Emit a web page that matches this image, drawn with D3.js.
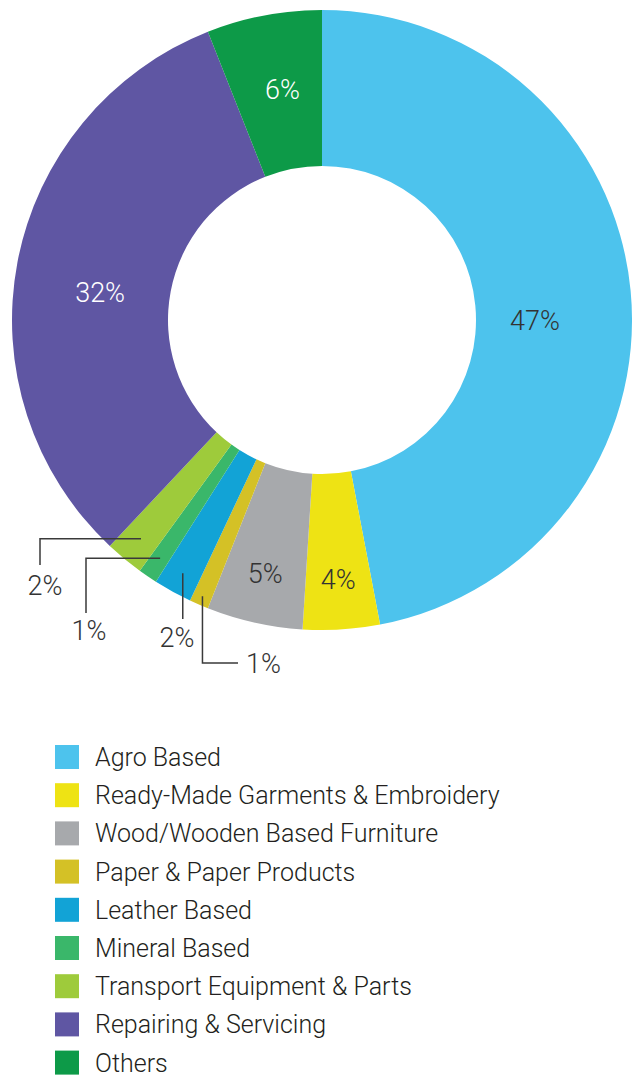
<!DOCTYPE html>
<html>
<head>
<meta charset="utf-8">
<script src="https://cdn.jsdelivr.net/npm/d3@7/dist/d3.min.js"></script>
<style>
  html, body { margin: 0; padding: 0; background: #fff; }
  svg { display: block; }
  text { font-family: Roboto, "Noto Sans", sans-serif; font-weight: 300; }
</style>
</head>
<body>
<script>
// Sector shares of industrial units (%)
const categories = [
  "Agro Based",
  "Ready-Made Garments & Embroidery",
  "Wood/Wooden Based Furniture",
  "Paper & Paper Products",
  "Leather Based",
  "Mineral Based",
  "Transport Equipment & Parts",
  "Repairing & Servicing",
  "Others"
];
const shares = [47, 4, 5, 1, 2, 1, 2, 32, 6];
const colors = ["#4DC3ED", "#EEE314", "#A7A9AC", "#D4C126", "#12A3D6", "#3AB76A", "#9ECB3B", "#5F56A3", "#0D9A48"];
// label fill per slice (light text on dark slices)
const labelColors = ["#333", "#333", "#333", "#333", "#333", "#333", "#333", "#fff", "#fff"];
// which slices get a leader-line callout instead of an inner label
const callout = [false, false, false, true, true, true, true, false, false];

const W = 632, H = 1077;
const cx = 322, cy = 320, rOuter = 310, rInner = 154;

const svg = d3.select("body").append("svg").attr("width", W).attr("height", H);

const data = categories.map((c, i) => ({ name: c, value: shares[i], color: colors[i], i }));

const pie = d3.pie().value(d => d.value).sort(null);
const arc = d3.arc().innerRadius(rInner).outerRadius(rOuter);

// inner label placement: radius along the mid-angle plus a small nudge
const labelRadius = { 0: 232, 1: 260, 2: 260, 7: 232, 8: 232 };
const labelNudge = { 0: [-18, 22], 7: [6, 16], 8: [4, -3] };

const arcs = pie(data);
const g = svg.append("g").attr("transform", `translate(${cx},${cy})`);

g.selectAll("path.slice")
  .data(arcs)
  .join("path")
  .attr("class", "slice")
  .attr("d", arc)
  .attr("fill", d => d.data.color);

function labelPos(d) {
  const r = labelRadius[d.data.i];
  const c = d3.arc().innerRadius(r).outerRadius(r).centroid(d);
  const n = labelNudge[d.data.i] || [0, 0];
  return [c[0] + n[0], c[1] + n[1]];
}

// inner labels
g.selectAll("text.inner")
  .data(arcs.filter(d => !callout[d.data.i]))
  .join("text")
  .attr("class", "inner")
  .attr("transform", d => `translate(${labelPos(d)})`)
  .attr("text-anchor", "middle")
  .attr("dy", "0.36em")
  .attr("font-size", 27)
  .attr("fill", d => labelColors[d.data.i])
  .text(d => d.data.value + "%");

// leader-line callouts for the thin slices
const calloutStyle = {
  3: { path: p => [[p[0], p[1]], [p[0], 663 - cy], [238 - cx, 663 - cy]], text: [246 - cx, 663 - cy], anchor: "start", dy: "0.36em" },
  4: { path: p => [[p[0], p[1]], [p[0], 619 - cy]], text: [177 - cx, 647 - cy], anchor: "middle", dy: "0" },
  5: { path: p => [[p[0], p[1]], [86 - cx, p[1]], [86 - cx, 613 - cy]], text: [89 - cx, 640 - cy], anchor: "middle", dy: "0" },
  6: { path: p => [[p[0], p[1]], [40 - cx, p[1]], [40 - cx, 565 - cy]], text: [45 - cx, 595 - cy], anchor: "middle", dy: "0" }
};
// radius inside each thin slice where its leader line starts
const anchorRadius = { 3: 301, 4: 289, 5: 288, 6: 284 };

arcs.filter(d => callout[d.data.i]).forEach(d => {
  const s = calloutStyle[d.data.i];
  const a = (d.startAngle + d.endAngle) / 2;
  const r = anchorRadius[d.data.i];
  const p = [Math.sin(a) * r, -Math.cos(a) * r];
  g.append("path")
    .attr("d", d3.line()(s.path(p)))
    .attr("fill", "none")
    .attr("stroke", "#3a3a3a")
    .attr("stroke-width", 1.5);
  g.append("text")
    .attr("x", s.text[0]).attr("y", s.text[1])
    .attr("text-anchor", s.anchor)
    .attr("dy", s.dy)
    .attr("font-size", 27)
    .attr("fill", "#333")
    .text(d.data.value + "%");
});

// legend
const legend = svg.append("g").attr("transform", "translate(55,745)");
const row = legend.selectAll("g")
  .data(data)
  .join("g")
  .attr("transform", (d, i) => `translate(0,${i * 38.2})`);
row.append("rect").attr("width", 24).attr("height", 24).attr("fill", d => d.color);
row.append("text")
  .attr("x", 40).attr("y", 12).attr("dy", "0.36em")
  .attr("font-size", 25)
  .attr("fill", "#231F20")
  .text(d => d.name);
</script>
</body>
</html>
